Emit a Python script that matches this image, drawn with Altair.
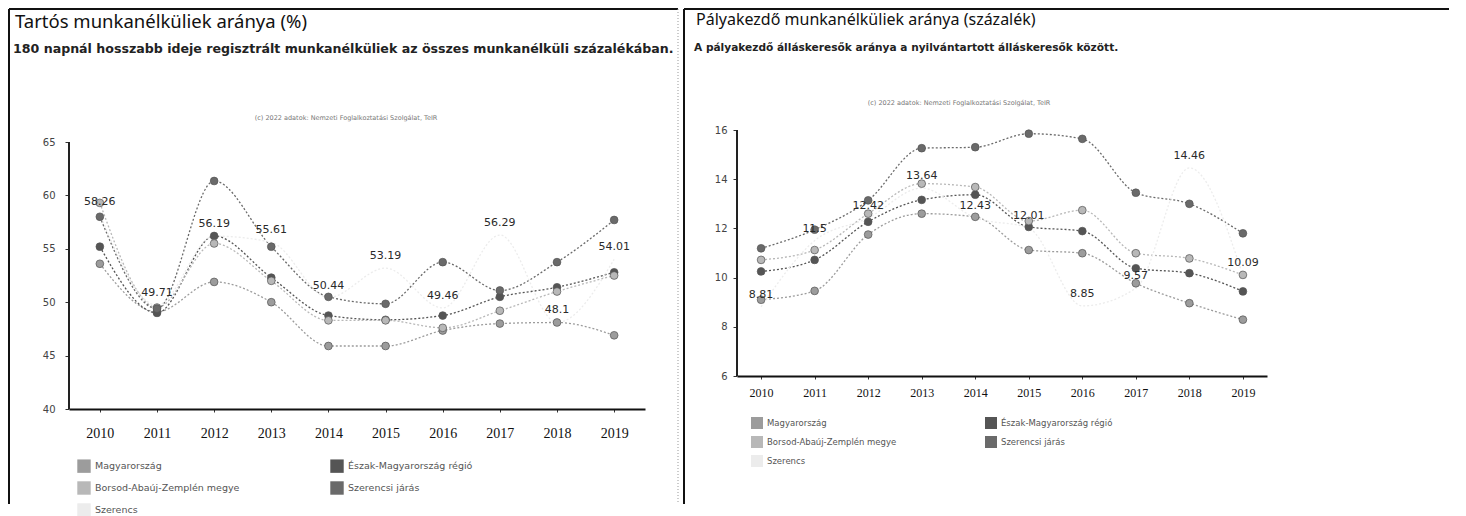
import altair as alt
import pandas as pd

years = [str(y) for y in range(2010, 2020)]
series = ["Magyarország", "Észak-Magyarország régió", "Borsod-Abaúj-Zemplén megye",
          "Szerencsi járás", "Szerencs"]
colors = ["#9c9c9c", "#555555", "#b8b8b8", "#6a6a6a", "#ececec"]

# Tartós munkanélküliek aránya (%)
tartos_mo = [53.6, 49.1, 51.9, 50.0, 45.9, 45.9, 47.35, 48.0, 48.1, 46.9]
tartos_em = [55.2, 49.0, 56.2, 52.3, 48.75, 48.35, 48.75, 50.5, 51.4, 52.8]
tartos_baz = [59.3, 49.5, 55.5, 52.0, 48.3, 48.3, 47.6, 49.2, 51.0, 52.5]
tartos_szj = [58.0, 49.4, 61.35, 55.2, 50.5, 49.85, 53.75, 51.1, 53.75, 57.7]
tartos_telep = [58.26, 49.71, 56.19, 55.61, 50.44, 53.19, 49.46, 56.29, 48.1, 54.01]

# Pályakezdő munkanélküliek aránya (százalék)
palya_mo = [9.1, 9.46, 11.75, 12.6, 12.47, 11.12, 10.99, 9.77, 8.96, 8.29]
palya_em = [10.25, 10.72, 12.27, 13.16, 13.37, 12.06, 11.89, 10.38, 10.18, 9.44]
palya_baz = [10.72, 11.12, 12.6, 13.82, 13.68, 12.3, 12.74, 10.99, 10.78, 10.11]
palya_szj = [11.19, 11.95, 13.14, 15.26, 15.3, 15.85, 15.64, 13.45, 13.0, 11.8]
palya_telep = [8.81, 11.5, 12.42, 13.64, 12.43, 12.01, 8.85, 9.57, 14.46, 10.09]

left_title = "Tartós munkanélküliek aránya (%)"
left_sub = "180 napnál hosszabb ideje regisztrált munkanélküliek az összes munkanélküli százalékában."
right_title = "Pályakezdő munkanélküliek aránya (százalék)"
right_sub = "A pályakezdő álláskeresők aránya a nyilvántartott álláskeresők között."
source = "(c) 2022 adatok: Nemzeti Foglalkoztatási Szolgálat, TeIR"

left_ticks = [40, 45, 50, 55, 60, 65]
right_ticks = [6, 8, 10, 12, 14, 16]


def long_df(lists):
    rows = []
    for name, vals in zip(series, lists):
        for y, v in zip(years, vals):
            rows.append({"year": y, "series": name, "value": v})
    return pd.DataFrame(rows)


one = pd.DataFrame({"k": [0]})


def txt(text, x, y, size, font="DejaVu Sans", color="#111", align="left", weight="normal"):
    return alt.Chart(pd.DataFrame({"t": [text]})).mark_text(
        align=align, baseline="middle", fontSize=size, font=font, color=color, fontWeight=weight
    ).encode(text="t:N", x=alt.value(x), y=alt.value(y))


def panel(lists, telep, domain, ticks, W, H, pad, fx, ftop, fbottom, fright,
          title, sub, tpos, spos, srcpos, tsize, ssize, legx, legy, colpad, rowpad,
          symsize, legfont, xlabpad, xfont, ylabpad, frame_right):
    df = long_df(lists + [telep])
    dfl = df[df["series"] == series[-1]]
    xenc = alt.X("year:O", title=None, scale=alt.Scale(type="point", padding=pad),
                 axis=alt.Axis(labelAngle=0, labelFont="Liberation Serif", labelFontSize=xfont,
                               labelColor="#111", domainColor="#111", domainWidth=2,
                               tickColor="#333", tickSize=3, labelPadding=xlabpad))
    yenc = alt.Y("value:Q", title=None, scale=alt.Scale(domain=domain, nice=False),
                 axis=alt.Axis(values=ticks, grid=False, labelFont="DejaVu Sans", labelFontSize=10,
                               labelColor="#444", domain=False, labelPadding=ylabpad,
                               tickColor="#333", tickSize=4))
    cscale = alt.Scale(domain=series, range=colors)
    leg = alt.Legend(orient="none", legendX=legx, legendY=legy, columns=2, direction="horizontal",
                     title=None, symbolType="square", symbolSize=symsize,
                     symbolStrokeWidth=0, symbolOpacity=1,
                     labelFont="DejaVu Sans", labelFontSize=legfont,
                     labelColor="#555", columnPadding=colpad,
                     rowPadding=rowpad, labelLimit=300)
    col = alt.Color("series:N", scale=cscale, sort=series, legend=leg)
    lines = alt.Chart(df).mark_line(strokeDash=[2, 2], strokeWidth=1.3, interpolate="monotone").encode(
        x=xenc, y=yenc, color=col)
    pts = alt.Chart(df).mark_circle(size=60, stroke="#555", strokeWidth=0.7).encode(
        x=xenc, y=yenc, color=col,
        opacity=alt.condition(alt.datum.series == series[-1], alt.value(0), alt.value(1)))
    labels = alt.Chart(dfl).mark_text(dy=-12, fontSize=11, font="DejaVu Sans", color="#2a2a2a").encode(
        x=xenc, y=yenc, text="value:Q")
    yline = alt.Chart(one).mark_rule(color="#222", strokeWidth=2).encode(
        x=alt.value(0), y=alt.datum(ticks[0]), y2=alt.datum(ticks[-1]))
    frame = [
        alt.Chart(one).mark_rule(color="#111", strokeWidth=2).encode(
            x=alt.value(fx), y=alt.value(ftop), y2=alt.value(fbottom)),
        alt.Chart(one).mark_rule(color="#111", strokeWidth=2).encode(
            x=alt.value(fx), x2=alt.value(fright), y=alt.value(ftop)),
    ]
    if frame_right:
        frame.append(alt.Chart(one).mark_rule(color="#999", strokeWidth=1, strokeDash=[1, 2]).encode(
            x=alt.value(fright), y=alt.value(ftop), y2=alt.value(fbottom)))
    texts = [
        txt(title, tpos[0], tpos[1], tsize, font="Noto Sans"),
        txt(sub, spos[0], spos[1], ssize, weight="bold", color="#222"),
        txt(source, srcpos[0], srcpos[1], 6.5, color="#777", align="center"),
    ]
    return alt.layer(*frame, *texts, lines, pts, labels, yline).properties(width=W, height=H)


# both plot areas share one top edge; the left one has 12 px of headroom above 65
left = panel([tartos_mo, tartos_em, tartos_baz, tartos_szj], tartos_telep, [40, 66.124], left_ticks,
             576, 279, 0.54, -60, -121, 374, 609,
             left_title, left_sub, (-54, -108), (-56, -81), (277, -12), 18.5, 12.6,
             8, 329, 90, 8, 180, 9.5, 14, 14, 10, True)
right = panel([palya_mo, palya_em, palya_baz, palya_szj], palya_telep, [6, 16], right_ticks,
              530, 246, 0.45, -53, -121, 374, 712,
              right_title, right_sub, (-41, -110), (-43, -82), (222, -27), 16, 10.6,
              14, 287, 88, 7, 144, 8.5, 8, 12, 6, False)

chart = alt.hconcat(left, right, spacing=4).resolve_legend(color="independent").properties(
    padding=0).configure_view(stroke=None)

chart.save("out.html", embed_options={"renderer": "svg", "actions": False})
